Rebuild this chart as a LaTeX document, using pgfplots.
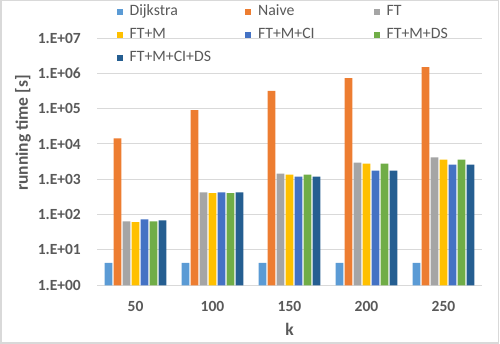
\documentclass[border=0pt]{standalone}
\usepackage{pgfplots}
\pgfplotsset{compat=1.18}
\usepackage{fontspec}
\setmainfont{Carlito}
\definecolor{txt}{HTML}{595959}
\definecolor{gridc}{HTML}{D9D9D9}
\definecolor{c1}{HTML}{5B9BD5}
\definecolor{c2}{HTML}{ED7D31}
\definecolor{c3}{HTML}{A5A5A5}
\definecolor{c4}{HTML}{FFC000}
\definecolor{c5}{HTML}{4472C4}
\definecolor{c6}{HTML}{70AD47}
\definecolor{c7}{HTML}{255E91}
\newcommand{\legtxt}[1]{\hspace*{7pt}\makebox[115.5pt][l]{#1}}
\begin{document}
\begin{tikzpicture}[x=1pt,y=1pt]
\path[use as bounding box] (0,0) rectangle (500,344);
\draw[gridc, line width=1.5pt] (0.75,0.75) rectangle (498.5,343.25);
\begin{axis}[
  at={(97pt,58.7pt)}, anchor=south west,
  scale only axis, width=385pt, height=247.3pt,
  ymode=log, log basis y=10,
  ymin=1, ymax=1e7,
  xmin=-0.5, xmax=4.5,
  ybar=1.3pt, bar width=7.7pt,
  xtick=data, xticklabels={50,100,150,200,250},
  ytick={1,10,100,1000,10000,100000,1000000,10000000},
  yticklabels={1.E+00,1.E+01,1.E+02,1.E+03,1.E+04,1.E+05,1.E+06,1.E+07},
  ymajorgrids, grid style={gridc, line width=1pt},
  axis line style={draw=none},
  major tick length=0pt, minor tick num=0,
  yminorticks=false,
  tick label style={text=txt, font=\bfseries\fontsize{15.5}{18}\selectfont, inner sep=0pt},
  yticklabel style={anchor=east, xshift=-16pt},
  xticklabel style={anchor=north, yshift=-15.4pt},
  xlabel={k}, ylabel={running time [s]},
  label style={text=txt, font=\bfseries\fontsize{17.5}{20}\selectfont, inner sep=0pt},
  xlabel style={at={(axis description cs:0.5,-0.1525)}, anchor=north},
  ylabel style={at={(axis description cs:-0.213,0.616)}, anchor=north, rotate=0},
  legend columns=3,
  legend style={at={(axis description cs:0.051,1.158)}, anchor=north west,
    draw=none, fill=none, inner sep=0pt, outer sep=0pt,
    column sep=0pt, row sep=0pt,
    font=\fontsize{15.8}{18}\selectfont, text=txt,
    cells={anchor=base},
    nodes={inner sep=0pt, text height=17pt, text depth=6pt, anchor=base}},
  legend image code/.code={\fill[#1] (0pt,1.3pt) rectangle (6pt,7.3pt);},
]
\addplot[fill=c1, draw=none] coordinates {(0,4.3) (1,4.3) (2,4.3) (3,4.3) (4,4.3)};
\addplot[fill=c2, draw=none] coordinates {(0,14500) (1,91000) (2,320000) (3,730000) (4,1500000)};
\addplot[fill=c3, draw=none] coordinates {(0,65) (1,430) (2,1450) (3,2970) (4,4150)};
\addplot[fill=c4, draw=none] coordinates {(0,61) (1,405) (2,1350) (3,2800) (4,3600)};
\addplot[fill=c5, draw=none] coordinates {(0,74) (1,430) (2,1200) (3,1770) (4,2600)};
\addplot[fill=c6, draw=none] coordinates {(0,65) (1,405) (2,1350) (3,2800) (4,3600)};
\addplot[fill=c7, draw=none] coordinates {(0,69) (1,430) (2,1200) (3,1770) (4,2600)};
\addlegendentry{\legtxt{Dijkstra}}
\addlegendentry{\legtxt{Naive}}
\addlegendentry{\legtxt{FT}}
\addlegendentry{\legtxt{FT+M}}
\addlegendentry{\legtxt{FT+M+CI}}
\addlegendentry{\legtxt{FT+M+DS}}
\addlegendentry{\legtxt{FT+M+CI+DS}}
\end{axis}
\end{tikzpicture}
\end{document}
